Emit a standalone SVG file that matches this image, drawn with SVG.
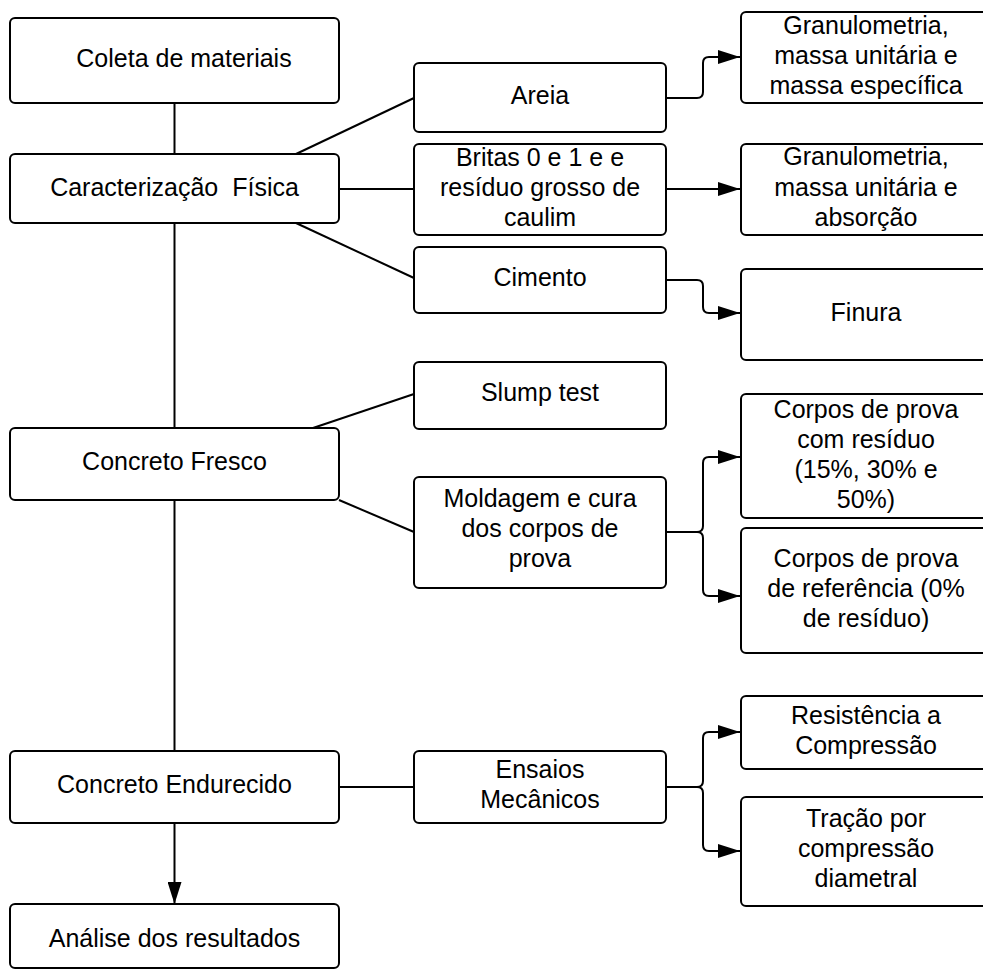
<svg xmlns="http://www.w3.org/2000/svg" width="983" height="974" viewBox="0 0 983 974">
<style>
.box{fill:#fff;stroke:#000;stroke-width:2}
.t{font-family:"Liberation Sans",Arial,sans-serif;font-size:25px;fill:#000;text-anchor:middle}
.c{fill:none;stroke:#000;stroke-width:2}
</style>
<defs>
<marker id="ah" markerUnits="userSpaceOnUse" markerWidth="22" markerHeight="14" refX="22" refY="7" orient="auto">
<path d="M0,0 L22,7 L0,14 z" fill="#000"/>
</marker>
</defs>
<rect width="983" height="974" fill="#fff"/>
<g id="connectors">
<path class="c" d="M174.5,103 V154"/>
<path class="c" d="M174.5,223 V428"/>
<path class="c" d="M174.5,500 V751"/>
<path class="c" d="M174.5,823 V904" marker-end="url(#ah)"/>
<path class="c" d="M296,154 L414,98"/>
<path class="c" d="M339,189 H414"/>
<path class="c" d="M296,223 L414,278"/>
<path class="c" d="M313,428 L414,394"/>
<path class="c" d="M339,500 L414,532"/>
<path class="c" d="M339,787 H414"/>
<path class="c" d="M666,98 H697 Q703,98 703,92 V63 Q703,57 709,57 H740" marker-end="url(#ah)"/>
<path class="c" d="M666,189 H740" marker-end="url(#ah)"/>
<path class="c" d="M666,280 H697 Q703,280 703,286 V307 Q703,313 709,313 H740" marker-end="url(#ah)"/>
<path class="c" d="M666,532 H697 Q703,532 703,526 V463 Q703,457 709,457 H740" marker-end="url(#ah)"/>
<path class="c" d="M697,532 Q703,532 703,538 V590 Q703,596 709,596 H740" marker-end="url(#ah)"/>
<path class="c" d="M666,787 H697 Q703,787 703,781 V738 Q703,732 709,732 H740" marker-end="url(#ah)"/>
<path class="c" d="M697,787 Q703,787 703,793 V845 Q703,851 709,851 H740" marker-end="url(#ah)"/>
</g>
<g id="coleta"><rect class="box" x="10" y="18" width="329" height="85" rx="5"/><text class="t" x="184" y="67">Coleta de materiais</text></g>
<g id="caracterizacao"><rect class="box" x="10" y="154" width="329" height="69" rx="5"/><text class="t" x="174.5" y="196" xml:space="preserve">Caracterização  Física</text></g>
<g id="fresco"><rect class="box" x="10" y="428" width="329" height="72" rx="5"/><text class="t" x="174.5" y="470">Concreto Fresco</text></g>
<g id="endurecido"><rect class="box" x="10" y="751" width="329" height="72" rx="5"/><text class="t" x="174.5" y="793">Concreto Endurecido</text></g>
<g id="analise"><rect class="box" x="10" y="904" width="329" height="64" rx="5"/><text class="t" x="174.5" y="947">Análise dos resultados</text></g>
<g id="areia"><rect class="box" x="414" y="63" width="252" height="69" rx="5"/><text class="t" x="540" y="104">Areia</text></g>
<g id="britas"><rect class="box" x="414" y="144" width="252" height="91" rx="5"/><text class="t" x="540" y="166">Britas 0 e 1 e e</text><text class="t" x="540" y="196">resíduo grosso de</text><text class="t" x="540" y="226">caulim</text></g>
<g id="cimento"><rect class="box" x="414" y="247" width="252" height="66" rx="5"/><text class="t" x="540" y="286">Cimento</text></g>
<g id="slump"><rect class="box" x="414" y="362" width="252" height="67" rx="5"/><text class="t" x="540" y="401">Slump test</text></g>
<g id="moldagem"><rect class="box" x="414" y="477" width="252" height="111" rx="5"/><text class="t" x="540" y="507">Moldagem e cura</text><text class="t" x="540" y="537">dos corpos de</text><text class="t" x="540" y="567">prova</text></g>
<g id="ensaios"><rect class="box" x="414" y="751" width="252" height="72" rx="5"/><text class="t" x="540" y="778">Ensaios</text><text class="t" x="540" y="808">Mecânicos</text></g>
<g id="gran1"><rect class="box" x="741" y="12" width="250" height="91" rx="5"/><text class="t" x="866" y="34">Granulometria,</text><text class="t" x="866" y="64">massa unitária e</text><text class="t" x="866" y="94">massa específica</text></g>
<g id="gran2"><rect class="box" x="741" y="144" width="250" height="91" rx="5"/><text class="t" x="866" y="165">Granulometria,</text><text class="t" x="866" y="196">massa unitária e</text><text class="t" x="866" y="226">absorção</text></g>
<g id="finura"><rect class="box" x="741" y="269" width="250" height="91" rx="5"/><text class="t" x="866" y="321">Finura</text></g>
<g id="cp-residuo"><rect class="box" x="741" y="394" width="250" height="124" rx="5"/><text class="t" x="866" y="418">Corpos de prova</text><text class="t" x="866" y="448">com resíduo</text><text class="t" x="866" y="478">(15%, 30% e</text><text class="t" x="866" y="508">50%)</text></g>
<g id="cp-referencia"><rect class="box" x="741" y="528" width="250" height="125" rx="5"/><text class="t" x="866" y="567">Corpos de prova</text><text class="t" x="866" y="597">de referência (0%</text><text class="t" x="866" y="627">de resíduo)</text></g>
<g id="resistencia"><rect class="box" x="741" y="696" width="250" height="73" rx="5"/><text class="t" x="866" y="724">Resistência a</text><text class="t" x="866" y="754">Compressão</text></g>
<g id="tracao"><rect class="box" x="741" y="797" width="250" height="109" rx="5"/><text class="t" x="866" y="827">Tração por</text><text class="t" x="866" y="857">compressão</text><text class="t" x="866" y="887">diametral</text></g>
</svg>
